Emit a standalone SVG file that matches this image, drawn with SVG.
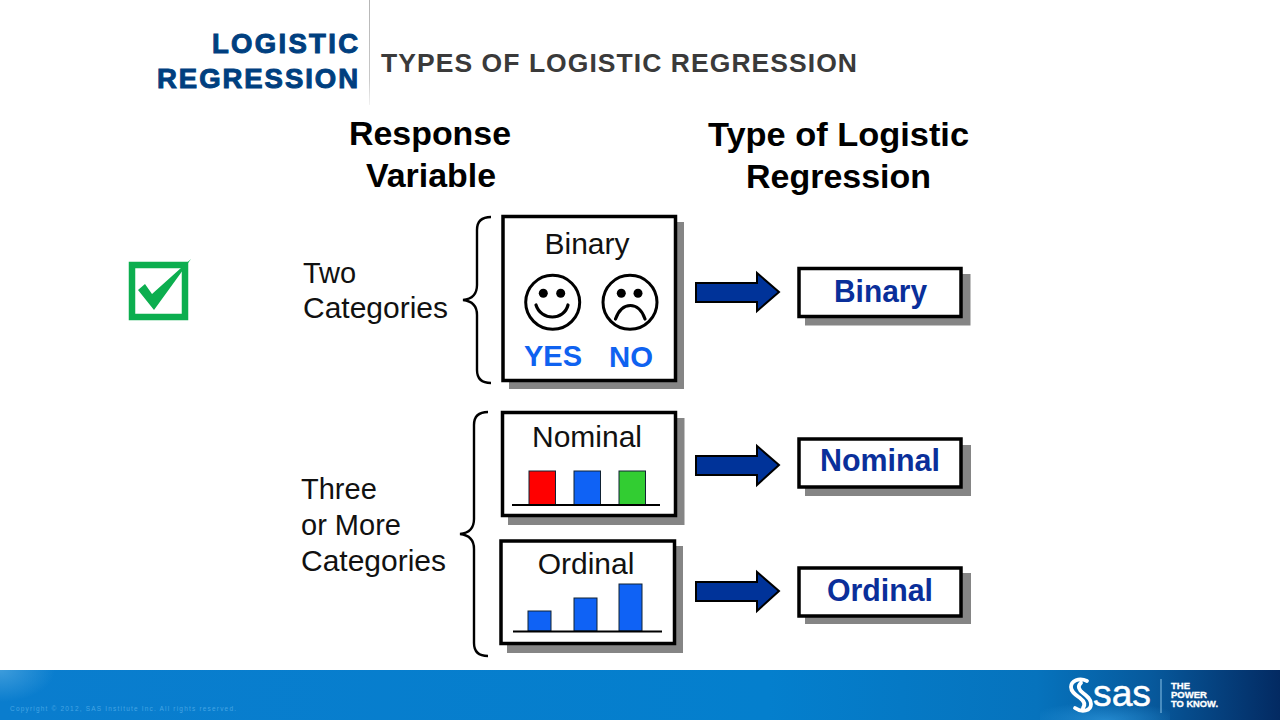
<svg xmlns="http://www.w3.org/2000/svg" width="1280" height="720" viewBox="0 0 1280 720">
<style>
text{font-family:"Liberation Sans",Arial,sans-serif}
.hd{font-size:33px;font-weight:bold;fill:#000}
.ttl{font-size:27.500px;font-weight:bold;fill:#003f7f;stroke:#003f7f;stroke-width:1px}
.lab{font-size:29px;fill:#111}
.in{font-size:30px;fill:#111;text-anchor:middle}
.yn{font-size:30px;font-weight:bold;fill:#0f62f0}
.res{font-size:31px;font-weight:bold;fill:#0a2f9a}
.box{fill:#fff;stroke:#000;stroke-width:3.5px}
.shadow{fill:#858585}
.brace{fill:none;stroke:#000;stroke-width:2.4px}
.arrow{fill:#003399;stroke:#000;stroke-width:2px}
.face{fill:#fff;stroke:#000;stroke-width:3px}
.mouth{fill:none;stroke:#000;stroke-width:3.2px;stroke-linecap:round}
.base{stroke:#000;stroke-width:2px}
.bar{stroke:#123;stroke-width:1px}
.tag{font-size:8.500px;font-weight:bold;fill:#fff;stroke:#fff;stroke-width:.3px}
</style>
<defs>
<linearGradient id="footer" x1="0" x2="1" y1="0" y2="0">
<stop offset="0" stop-color="#0a7dce"/><stop offset=".6" stop-color="#047fcd"/><stop offset=".81" stop-color="#0673bd"/><stop offset=".9" stop-color="#07599c"/><stop offset="1" stop-color="#032a62"/>
</linearGradient>
<radialGradient id="glow" cx="0" cy="0" r="1"><stop offset="0" stop-color="#5fb0e4" stop-opacity=".6"/><stop offset="1" stop-color="#5fb0e4" stop-opacity="0"/></radialGradient>
<radialGradient id="glow2" cx=".5" cy="1" r=".6"><stop offset="0" stop-color="#2f97dc" stop-opacity=".7"/><stop offset="1" stop-color="#2f97dc" stop-opacity="0"/></radialGradient>
<linearGradient id="rule" x1="0" x2="0" y1="0" y2="1"><stop offset="0" stop-color="#b5b5b5"/><stop offset=".75" stop-color="#c8c8c8"/><stop offset="1" stop-color="#f2f2f2"/></linearGradient>
</defs>
<rect width="1280" height="720" fill="#fff"/>

<g id="header">
<rect x="369" y="0" width="1" height="105" fill="url(#rule)"/>
<text class="ttl" x="212" y="53" textLength="146" lengthAdjust="spacing">LOGISTIC</text>
<text class="ttl" x="157" y="88" textLength="201" lengthAdjust="spacing">REGRESSION</text>
<text x="381" y="72" font-size="26.500" font-weight="bold" fill="#3a3a3a" textLength="476" lengthAdjust="spacing">TYPES OF LOGISTIC REGRESSION</text>
</g>

<g id="checkbox">
<rect x="132" y="265" width="53" height="52" fill="#fff" stroke="#0cae4f" stroke-width="6.500"/>
<path d="M138 290L145 284L152 294L191 259L154 310Z" fill="#0cae4f"/>
</g>

<g id="col-response">
<text class="hd" x="349" y="145" textLength="162" lengthAdjust="spacingAndGlyphs">Response</text>
<text class="hd" x="366" y="187" textLength="130" lengthAdjust="spacingAndGlyphs">Variable</text>
</g>
<g id="col-type">
<text class="hd" x="708" y="146" textLength="261" lengthAdjust="spacingAndGlyphs">Type of Logistic</text>
<text class="hd" x="746" y="188" textLength="185" lengthAdjust="spacingAndGlyphs">Regression</text>
</g>

<g id="two-categories">
<text class="lab" x="303" y="283">Two</text>
<text class="lab" x="303" y="318" textLength="145" lengthAdjust="spacingAndGlyphs">Categories</text>
<path class="brace" d="M491 217C482 217 477 221 477 230V285C477 294 472 299 463 300C472 301 477 306 477 315V370C477 379 482 383 491 383"/>
</g>

<g id="three-categories">
<text class="lab" x="301" y="499">Three</text>
<text class="lab" x="301" y="535">or More</text>
<text class="lab" x="301" y="571" textLength="145" lengthAdjust="spacingAndGlyphs">Categories</text>
<path class="brace" d="M488 412C479 412 474 416 474 425V519C474 528 469 533 460 534C469 535 474 540 474 549V643C474 652 479 656 488 656"/>
</g>

<g id="binary-box">
<rect class="shadow" x="509" y="222" width="175" height="167"/>
<rect class="box" x="503" y="216.500" width="172.500" height="164"/>
<text class="in" x="587" y="254">Binary</text>
<circle class="face" cx="552.700" cy="302.300" r="27"/>
<circle cx="543.300" cy="293.300" r="4.500"/><circle cx="560.700" cy="293.300" r="4.500"/>
<path class="mouth" d="M536 305C541 321 564 321 568 305"/>
<circle class="face" cx="630" cy="302.300" r="27"/>
<circle cx="621.300" cy="293.300" r="4.500"/><circle cx="638" cy="293.300" r="4.500"/>
<path class="mouth" d="M615.500 319C622 301 639 301 645 319"/>
<text class="yn" x="524" y="366" textLength="58" lengthAdjust="spacingAndGlyphs">YES</text>
<text class="yn" x="609" y="367" textLength="44" lengthAdjust="spacingAndGlyphs">NO</text>
</g>

<g id="nominal-box">
<rect class="shadow" x="508" y="418" width="176.500" height="107"/>
<rect class="box" x="502.500" y="412.500" width="173" height="103"/>
<text class="in" x="587" y="447">Nominal</text>
<rect class="bar" x="529" y="471" width="26.500" height="34" fill="#f00"/>
<rect class="bar" x="574" y="471" width="26.500" height="34" fill="#0f62f5"/>
<rect class="bar" x="619" y="471" width="26.500" height="34" fill="#32cd32"/>
<line class="base" x1="512" y1="505" x2="660" y2="505"/>
</g>

<g id="ordinal-box">
<rect class="shadow" x="507" y="546" width="176" height="107"/>
<rect class="box" x="501" y="541" width="173.500" height="102.500"/>
<text class="in" x="586" y="574">Ordinal</text>
<rect class="bar" x="528" y="611" width="23" height="20" fill="#0f62f5"/>
<rect class="bar" x="574" y="598" width="23" height="33" fill="#0f62f5"/>
<rect class="bar" x="619" y="584" width="23" height="47" fill="#0f62f5"/>
<line class="base" x1="513" y1="631.500" x2="662" y2="631.500"/>
</g>

<g id="connectors">
<path class="arrow" d="M696 283H757V273L779 292L757 311V302H696Z"/>
<path class="arrow" d="M696 456H757V446L779 465L757 485V475H696Z"/>
<path class="arrow" d="M696 582H757V572L779 591L757 611V601H696Z"/>
</g>

<g id="result-binary">
<rect class="shadow" x="805" y="274" width="165.500" height="51.500"/>
<rect class="box" x="799" y="268.500" width="162" height="48"/>
<text class="res" x="834" y="302" textLength="93" lengthAdjust="spacingAndGlyphs">Binary</text>
</g>
<g id="result-nominal">
<rect class="shadow" x="805" y="445" width="166" height="51"/>
<rect class="box" x="799" y="439" width="162" height="48"/>
<text class="res" x="820" y="471" textLength="120" lengthAdjust="spacingAndGlyphs">Nominal</text>
</g>
<g id="result-ordinal">
<rect class="shadow" x="805" y="573" width="166" height="51"/>
<rect class="box" x="799" y="568" width="162" height="48"/>
<text class="res" x="827" y="601" textLength="106" lengthAdjust="spacingAndGlyphs">Ordinal</text>
</g>

<g id="footer-band">
<rect x="0" y="670" width="1280" height="50" fill="url(#footer)"/>
<rect x="0" y="670" width="55" height="32" fill="url(#glow)"/>
<rect x="1040" y="690" width="130" height="30" fill="url(#glow2)"/>
<text x="10" y="711" font-size="6.500" fill="#45a5e4" textLength="226" lengthAdjust="spacing">Copyright © 2012, SAS Institute Inc. All rights reserved.</text>
<path d="M1087 681C1079 677 1071 681 1071 687C1071 692 1076 695 1080 698C1084 701 1086 704 1083 708M1075 708C1082 713 1091 711 1091 704C1091 699 1087 696 1083 693C1079 690 1077 686 1081 683" fill="none" stroke="#fff" stroke-width="3.800" stroke-linecap="round"/>
<text x="1093" y="706" font-size="37" fill="#fff" stroke="#fff" stroke-width=".5" textLength="58" lengthAdjust="spacingAndGlyphs">sas</text>
<rect x="1160.500" y="679" width="1" height="34" fill="#8cc4e8"/>
<text class="tag" x="1171" y="689" textLength="19" lengthAdjust="spacingAndGlyphs">THE</text>
<text class="tag" x="1171" y="698" textLength="36" lengthAdjust="spacingAndGlyphs">POWER</text>
<text class="tag" x="1171" y="707" textLength="47" lengthAdjust="spacingAndGlyphs">TO KNOW.</text>
</g>
</svg>
